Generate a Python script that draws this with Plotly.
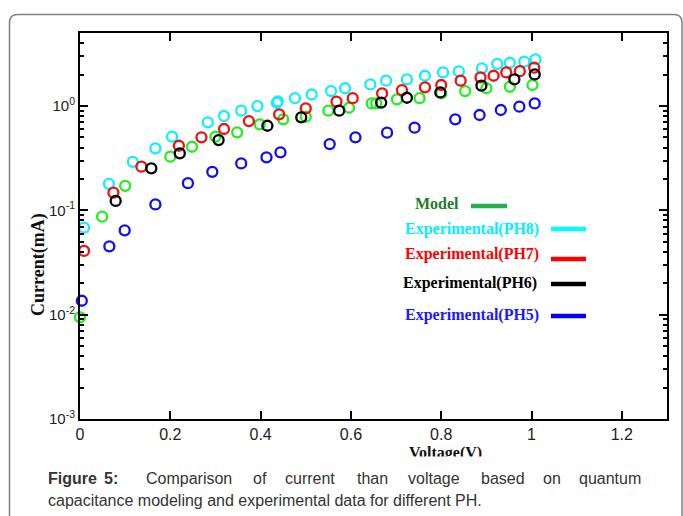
import plotly.graph_objects as go

# ---------------- data ----------------
model_v = [0.0, 0.049, 0.1, 0.2, 0.248, 0.3, 0.348, 0.398, 0.45, 0.5, 0.55, 0.596,
           0.646, 0.656, 0.702, 0.752, 0.8, 0.853, 0.9, 0.952, 1.002]
model_i = [0.00944, 0.0869, 0.172, 0.327, 0.407, 0.508, 0.560, 0.668, 0.746, 0.789, 0.902, 0.963,
           1.06, 1.06, 1.16, 1.19, 1.32, 1.39, 1.48, 1.53, 1.59]

ph8_v = [0.009, 0.064, 0.117, 0.167, 0.204, 0.283, 0.319, 0.357, 0.393, 0.436, 0.438, 0.476,
         0.513, 0.556, 0.587, 0.643, 0.678, 0.724, 0.764, 0.804, 0.839, 0.89, 0.924, 0.952,
         0.984, 1.009]
ph8_i = [0.0682, 0.179, 0.292, 0.393, 0.508, 0.698, 0.802, 0.902, 1.0, 1.07, 1.11, 1.19,
         1.29, 1.39, 1.48, 1.61, 1.75, 1.80, 1.95, 2.10, 2.15, 2.30, 2.53, 2.60,
         2.66, 2.80]

ph7_v = [0.009, 0.074, 0.136, 0.219, 0.269, 0.319, 0.374, 0.441, 0.5, 0.568, 0.604, 0.669,
         0.713, 0.764, 0.8, 0.843, 0.887, 0.916, 0.944, 0.974, 1.006]
ph7_i = [0.0408, 0.148, 0.262, 0.416, 0.501, 0.602, 0.718, 0.833, 0.950, 1.10, 1.19, 1.32,
         1.42, 1.51, 1.59, 1.75, 1.88, 1.95, 2.10, 2.16, 2.33]

ph6_v = [0.079, 0.158, 0.221, 0.307, 0.415, 0.49, 0.574, 0.667, 0.724, 0.798, 0.889, 0.962, 1.007]
ph6_i = [0.123, 0.253, 0.352, 0.472, 0.647, 0.780, 0.902, 1.08, 1.20, 1.35, 1.57, 1.80, 2.01]

ph5_v = [0.004, 0.065, 0.099, 0.167, 0.239, 0.293, 0.357, 0.413, 0.444, 0.553, 0.61, 0.68,
         0.741, 0.831, 0.885, 0.932, 0.973, 1.007]
ph5_i = [0.0136, 0.0452, 0.0644, 0.114, 0.182, 0.234, 0.282, 0.322, 0.360, 0.432, 0.501, 0.555,
         0.620, 0.746, 0.820, 0.916, 0.985, 1.06]

y_tick_vals = [0.001, 0.01, 0.1, 1]
y_tick_text = ["10<sup>-3</sup>", "10<sup>-2</sup>", "10<sup>-1</sup>", "10<sup>0</sup>"]
y_minor_vals = [m * 10 ** e for e in (-3, -2, -1, 0) for m in range(2, 10)]

legend_labels = ["Model", "Experimental(PH8)", "Experimental(PH7)", "Experimental(PH6)", "Experimental(PH5)"]
caption_line1 = ["Figure", "5:", "Comparison", "of", "current", "than", "voltage", "based", "on", "quantum"]
caption_line2 = "capacitance modeling and experimental data for different PH."

# ---------------- styling ----------------
W, H = 683, 516
L, R, T, B = 80, 16, 33, 97
PW, PH = W - L - R, H - T - B


def px(x):
    return (x - L) / PW


def py(y):
    return (H - B - y) / PH


series = [
    (model_v, model_i, "#22ee22"),
    (ph8_v, ph8_i, "#11eeff"),
    (ph7_v, ph7_i, "#ee1111"),
    (ph6_v, ph6_i, "#000000"),
    (ph5_v, ph5_i, "#1010ee"),
]

fig = go.Figure()
for (xv, yv, col), name in zip(series, legend_labels):
    fig.add_trace(go.Scatter(
        x=xv, y=yv, mode="markers", name=name, cliponaxis=False,
        marker=dict(symbol="circle-open", size=10, color=col, line=dict(width=2.3, color=col)),
        showlegend=False,
    ))

axis_font = dict(family="Liberation Sans, Arial", size=16, color="#222")
fig.update_xaxes(
    range=[0, 1.3], dtick=0.2, tick0=0, showgrid=False, zeroline=False,
    showline=True, linecolor="black", linewidth=2, mirror="ticks",
    ticks="inside", ticklen=8, tickwidth=1.5, tickcolor="black",
    tickfont=axis_font,
)
fig.update_yaxes(
    type="log", range=[-3, 0.70], showgrid=False, zeroline=False,
    tickmode="array", tickvals=y_tick_vals, ticktext=y_tick_text,
    showline=True, linecolor="black", linewidth=2, mirror="ticks",
    ticks="inside", ticklen=8, tickwidth=1.5, tickcolor="black",
    tickfont=dict(family="Liberation Sans, Arial", size=15, color="#222"),
    minor=dict(tickmode="array", tickvals=y_minor_vals, ticks="inside", ticklen=4,
               tickwidth=1.5, tickcolor="black", showgrid=False),
)

ann = []
# axis titles
ann.append(dict(text="<b>Current(mA)</b>", x=px(38), y=py(265), xref="paper", yref="paper",
                xanchor="center", yanchor="middle",
                textangle=-90, showarrow=False, font=dict(family="Liberation Serif", size=18, color="#111")))
ann.append(dict(text="<b>Voltage(V)</b>", x=px(445), y=py(453), xref="paper", yref="paper",
                showarrow=False, xanchor="center", yanchor="middle",
                font=dict(family="Liberation Serif", size=16, color="#111")))
# white cover that crops the x-axis title like the reference
ann.append(dict(text=" ", x=px(445), y=py(456), xref="paper", yref="paper", showarrow=False,
                xanchor="center", yanchor="top", width=200, height=12, bgcolor="white",
                font=dict(size=8)))

# custom legend
leg_text = [(413, 203, "#1e7b32"), (403, 229, "#00f0ff"), (403, 254, "#ff0000"),
            (401, 283, "#000000"), (403, 315, "#1a1aff")]
leg_line = [(471, 507, 206, "#22b14c"), (551, 586, 229, "#00ffff"), (551, 586, 259, "#ff0000"),
            (551, 586, 284, "#000000"), (551, 586, 316, "#0000ff")]
for (lx, ly, lc), lab in zip(leg_text, legend_labels):
    ann.append(dict(text="<b>%s</b>" % lab, x=px(lx), y=py(ly), xref="paper", yref="paper",
                    showarrow=False, xanchor="left", yanchor="middle",
                    font=dict(family="Liberation Serif", size=16, color=lc)))

shapes = []
for x0, x1, yy, c in leg_line:
    shapes.append(dict(type="line", xref="paper", yref="paper", x0=px(x0), x1=px(x1),
                       y0=py(yy), y1=py(yy), line=dict(color=c, width=4.5)))

# frame
fl, ft, fr, fb, rr = 9.5, 14.5, 682, 530, 8
path = "M %f,%f L %f,%f Q %f,%f %f,%f L %f,%f Q %f,%f %f,%f L %f,%f" % (
    px(fl), py(fb), px(fl), py(ft + rr), px(fl), py(ft), px(fl + rr), py(ft),
    px(fr - rr), py(ft), px(fr), py(ft), px(fr), py(ft + rr), px(fr), py(fb))
shapes.append(dict(type="path", xref="paper", yref="paper", path=path,
                   line=dict(color="#808080", width=1.5)))

# caption
cap_font = dict(family="Liberation Sans, Arial", size=16, color="#333")
cap_x = [46, 102, 144, 251, 283, 355, 406, 479, 541, 577]
for wx, w in zip(cap_x, caption_line1):
    t = "<b>%s</b>" % w if w in ("Figure", "5:") else w
    ann.append(dict(text=t, x=px(wx), y=py(478), xref="paper", yref="paper", showarrow=False,
                    xanchor="left", yanchor="middle", font=cap_font))
ann.append(dict(text=caption_line2, x=px(46), y=py(500), xref="paper", yref="paper",
                showarrow=False, xanchor="left", yanchor="middle", font=cap_font))

fig.update_layout(
    width=W, height=H, margin=dict(l=L, r=R, t=T, b=B, autoexpand=False),
    paper_bgcolor="white", plot_bgcolor="white",
    annotations=ann, shapes=shapes,
)

fig.write_html("out.html")
